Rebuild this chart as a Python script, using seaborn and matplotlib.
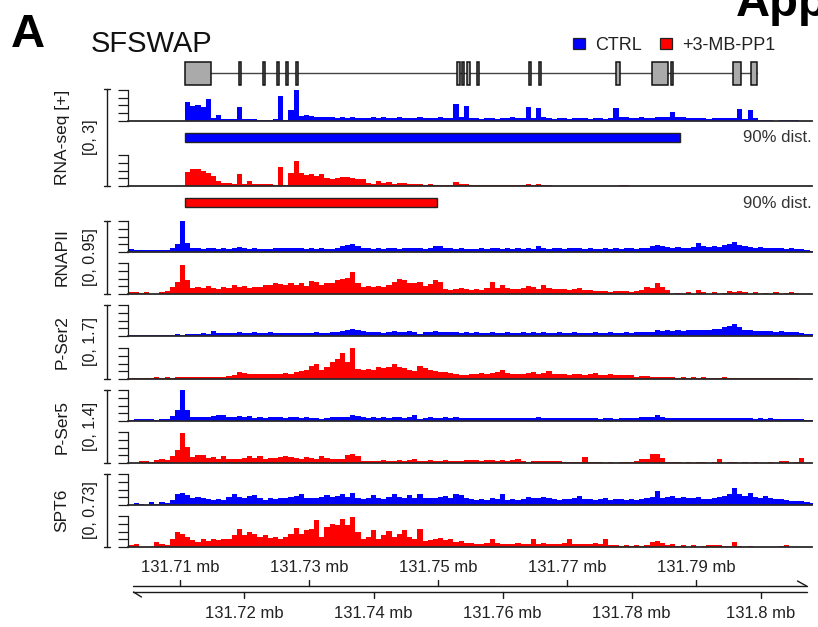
import numpy as np
import pandas as pd
import matplotlib
matplotlib.use("Agg")
import matplotlib.pyplot as plt
import seaborn as sns
from matplotlib.patches import Rectangle
from matplotlib.lines import Line2D

W, H = 818, 627
sns.set_theme(style="white")
plt.rcParams["font.family"] = ["Liberation Sans", "DejaVu Sans"]

BLUE, RED = "#0000FF", "#FF0000"
INK = "#1a1a1a"

# ---- genomic window (mb) -------------------------------------------------
VIEW = (131.70194, 131.80798)
BIN_START = 131.7020
BIN_WIDTH = 0.0008

# ---- gene model: SFSWAP exons (mb) ---------------------------------------
gene_span = (131.71078, 131.79946)
exon_start = [131.71078, 131.71915, 131.72287, 131.72504, 131.72643, 131.72798,
              131.75295, 131.75372, 131.75450, 131.75605, 131.76411, 131.76566,
              131.77760, 131.78318, 131.78612, 131.79574, 131.79853]
exon_end = [131.71481, 131.71946, 131.72318, 131.72535, 131.72674, 131.72829,
            131.75341, 131.75403, 131.75496, 131.75636, 131.76442, 131.76597,
            131.77822, 131.78566, 131.78643, 131.79698, 131.79946]

# ---- 90% read distance (mb) ----------------------------------------------
dist90_ctrl = 131.78752
dist90_trt = 131.74992

# ---- coverage, % of track maximum, one value per 0.8 kb bin --------------
rna_ctrl = [0,0,0,0,0,0,0,0,0,0,0,
            62,48,52,45,72,10,18,7,5,7,
            45,7,8,5,3,3,4,5,80,2,
            37,100,15,18,15,13,12,14,12,11,
            13,10,12,11,9,10,12,9,14,11,
            10,12,10,11,9,12,10,11,9,13,
            10,9,55,12,48,10,9,8,9,10,
            8,9,10,12,11,10,45,11,43,12,
            9,8,9,10,8,9,10,9,8,10,
            9,8,10,41,14,12,11,10,12,9,
            11,14,13,12,30,14,13,11,10,9,
            10,8,9,10,9,10,11,38,8,34,
            9,3,2,3,0,2,3,2,3,0,0,0]
rna_trt = [0,0,0,0,0,0,0,0,0,0,0,
           45,54,56,49,41,32,16,11,9,6,
           38,8,16,5,8,5,5,4,62,3,
           41,82,41,35,38,33,38,27,22,27,
           29,30,27,22,24,11,8,16,11,13,
           5,11,9,5,8,5,4,5,3,4,
           3,3,14,5,5,4,3,4,3,4,
           3,3,4,3,3,4,6,3,6,3,
           2,0,0,0,0,0,0,0,0,0,
           0,0,0,0,2,2,0,0,0,0,
           0,0,0,0,0,0,0,0,0,0,
           0,0,0,0,0,0,0,0,0,0,
           0,0,0,0,0,0,0,0,0,0,0,0]
pol_ctrl = [9,8,6,7,6,8,7,8,12,25,100,
            30,13,12,11,13,12,11,12,11,13,
            15,12,11,12,11,10,11,13,12,14,
            12,13,12,11,12,11,12,10,11,14,
            18,22,27,18,13,12,11,12,10,12,
            13,11,12,13,12,14,11,14,18,20,
            14,12,11,12,11,10,11,12,11,12,
            14,11,12,11,13,11,12,11,18,12,
            11,13,14,11,12,14,13,11,12,10,
            11,12,11,12,11,13,12,11,13,14,
            18,22,20,16,14,15,14,13,16,28,
            18,16,20,15,22,26,32,24,18,16,
            14,15,13,14,12,13,11,12,10,9,6,4]
pol_trt = [7,5,3,7,0,0,5,10,23,39,93,
           45,18,23,20,27,18,16,21,18,29,
           23,26,20,23,23,29,29,34,31,29,
           34,29,34,27,41,39,29,36,34,45,
           50,52,71,34,23,27,23,26,23,29,
           39,50,45,34,36,39,27,31,45,39,
           16,13,16,18,16,14,15,13,18,39,
           20,28,18,15,17,19,25,22,16,28,
           20,17,15,16,14,15,19,13,12,10,
           9,11,8,10,9,11,8,10,14,22,
           20,35,22,12,0,4,0,5,0,14,
           6,0,5,0,3,10,8,9,6,0,
           5,0,4,0,5,0,4,5,3,0,0,0]
ser2_ctrl = [3,4,3,4,3,4,3,4,4,5,4,
             5,6,8,9,8,15,10,9,11,10,
             12,9,10,12,11,10,12,11,10,11,
             9,10,11,10,11,12,10,11,13,14,
             17,19,22,18,15,14,12,13,11,14,
             15,13,14,15,13,6,14,13,15,12,
             14,12,13,11,12,11,12,10,11,12,
             10,11,12,10,11,12,10,13,11,12,
             10,11,12,11,10,12,11,10,11,12,
             10,11,12,11,10,12,11,12,13,12,
             14,18,17,19,17,18,16,18,20,19,
             18,20,22,24,28,32,38,30,20,18,
             16,17,15,16,14,15,13,14,12,10,8,6]
ser2_trt = [4,3,4,3,4,5,4,5,4,5,5,
            6,5,6,5,6,7,6,8,9,13,
            24,20,16,17,15,16,17,15,16,18,
            17,22,27,30,43,48,30,38,54,65,
            83,54,99,32,30,32,30,38,34,38,
            48,38,34,30,27,41,34,30,27,24,
            22,19,16,13,13,15,16,18,17,20,
            22,30,18,16,17,15,18,24,16,18,
            26,17,15,16,14,15,16,14,15,18,
            14,13,15,13,14,12,13,8,10,9,
            7,6,5,6,5,4,5,4,5,4,
            5,4,3,4,5,4,3,4,3,4,
            3,2,3,2,3,2,2,3,2,1,0,0]
ser5_ctrl = [3,5,5,5,5,4,7,8,15,34,100,
             34,12,12,12,13,15,20,20,12,13,
             15,13,15,11,12,11,13,12,14,11,
             12,13,11,12,10,11,8,9,12,13,
             12,14,20,15,12,11,13,10,12,11,
             13,12,11,13,20,6,11,12,10,11,
             12,11,13,10,11,9,10,9,11,9,
             10,9,10,9,10,11,9,10,13,9,
             10,9,10,11,9,10,9,10,9,10,
             8,10,9,8,10,9,11,10,12,13,
             14,18,12,10,9,10,9,10,11,9,
             10,11,10,9,10,11,10,9,10,9,
             8,9,8,9,7,8,7,6,6,5,4,3]
ser5_trt = [0,0,5,5,3,9,14,9,23,41,97,
            52,19,25,27,16,19,14,23,14,12,
            12,16,23,16,23,14,16,16,19,23,
            19,16,14,19,16,14,23,16,14,12,
            14,25,30,23,5,8,7,8,9,8,
            7,9,8,9,12,8,7,9,8,7,
            9,8,7,8,9,9,10,8,9,10,
            8,9,8,9,12,5,4,5,6,7,
            6,5,6,3,4,2,3,19,3,2,
            3,0,3,0,2,3,4,6,12,14,
            28,30,16,4,2,3,0,3,0,2,
            3,0,3,12,0,2,3,0,2,0,
            3,0,0,2,0,6,5,0,2,16,0,0]
spt6_ctrl = [0,5,3,0,10,2,10,8,16,34,40,
             32,23,26,21,19,16,19,16,26,37,
             26,23,29,32,21,16,23,19,21,21,
             26,29,37,21,21,23,26,32,26,29,
             37,26,40,23,19,21,32,23,19,26,
             37,26,21,32,23,37,21,23,21,26,
             29,23,34,32,21,18,16,20,17,22,
             18,34,16,19,15,20,26,24,21,26,
             22,18,17,20,19,23,28,18,20,17,
             19,22,16,18,20,17,19,15,20,22,
             26,44,24,26,28,22,25,21,24,27,
             20,18,22,26,30,37,55,34,28,40,
             26,24,30,22,20,18,16,13,14,12,10,8]
spt6_trt = [8,11,0,0,0,16,11,8,25,48,43,
            32,22,16,25,18,25,21,27,25,38,
            57,38,48,43,32,38,29,32,27,32,
            43,61,43,54,59,86,32,65,75,70,
            89,70,97,48,27,32,54,25,38,51,
            32,43,54,32,27,57,18,21,25,29,
            21,25,16,18,14,12,10,11,13,25,
            12,10,11,9,12,10,11,25,10,12,
            9,11,10,12,25,10,9,11,10,12,
            9,25,8,5,3,5,4,5,3,6,
            16,18,14,5,10,3,7,0,8,0,
            3,5,6,5,4,3,16,4,0,2,
            0,0,0,0,0,3,5,0,0,0,0,0]

# ---- track groups: name, range label, y maximum, (ctrl, trt) --------------
group_names = ["RNA-seq [+]", "RNAPII", "P-Ser2", "P-Ser5", "SPT6"]
group_ranges = ["[0, 3]", "[0, 0.95]", "[0, 1.7]", "[0, 1.4]", "[0, 0.73]"]
group_ymax = [3.0, 0.95, 1.7, 1.4, 0.73]
group_data = [(rna_ctrl, rna_trt), (pol_ctrl, pol_trt), (ser2_ctrl, ser2_trt),
              (ser5_ctrl, ser5_trt), (spt6_ctrl, spt6_trt)]

# panel geometry in pixels: (top, baseline) of the ctrl and trt tracks
track_px = [((90, 121), (155, 186)),
            ((221, 252), (263, 294)),
            ((305, 336), (348, 379)),
            ((390, 421), (432, 463)),
            ((474, 505), (516, 547))]
LEFT_PX, RIGHT_PX = 128, 812


def fx(px):
    return px / W


def fy(py):
    return 1 - py / H


fig = plt.figure(figsize=(W / 100, H / 100), dpi=100)
fig.patch.set_facecolor("white")

# overlay in data-x / pixel-y coordinates for the annotation layer
ov = fig.add_axes([fx(LEFT_PX), 0, (RIGHT_PX - LEFT_PX) / W, 1])
ov.set_xlim(VIEW)
ov.set_ylim(H, 0)
ov.axis("off")


def draw_track(vals, ymax, color, top, base):
    ax = fig.add_axes([fx(LEFT_PX), fy(base), (RIGHT_PX - LEFT_PX) / W, (base - top) / H])
    v = np.asarray(vals, dtype=float) / 100.0 * ymax
    edges = BIN_START + BIN_WIDTH * np.arange(len(v) + 1)
    df = pd.DataFrame({"pos": (edges[:-1] + edges[1:]) / 2, "cov": v})
    sns.histplot(data=df, x="pos", weights="cov", bins=list(edges), element="step",
                 fill=True, color=color, alpha=1, linewidth=0, ax=ax)
    ax.set_xlim(VIEW)
    ax.set_ylim(0, ymax)
    ax.set_facecolor("none")
    ax.set_xlabel("")
    ax.set_ylabel("")
    ax.set_xticks([])
    ax.set_yticks(np.linspace(0, ymax, 5))
    ax.tick_params(axis="y", left=True, direction="out", length=7.2, width=0.9,
                   color=INK, labelleft=False, pad=0)
    for s in ("top", "right"):
        ax.spines[s].set_visible(False)
    ax.spines["left"].set_color(INK)
    ax.spines["left"].set_linewidth(0.9)
    ax.spines["bottom"].set_color("#2a2a2a")
    ax.spines["bottom"].set_linewidth(1.3)
    return ax


for gi, (name, rng, ymax, (dc, dt), ((t1, b1), (t2, b2))) in enumerate(
        zip(group_names, group_ranges, group_ymax, group_data, track_px)):
    draw_track(dc, ymax, BLUE, t1, b1)
    draw_track(dt, ymax, RED, t2, b2)
    top_b = t1 - (1 if gi == 0 else 0)
    # bracket grouping the two tracks
    for seg in [((107, 107), (top_b, b2)), ((104, 110), (top_b, top_b)), ((104, 110), (b2, b2))]:
        fig.add_artist(Line2D([fx(seg[0][0]), fx(seg[0][1])], [fy(seg[1][0]), fy(seg[1][1])],
                              color=INK, lw=1.0, transform=fig.transFigure))
    cy = (top_b + b2) / 2
    fig.text(fx(62), fy(cy), name, rotation=90, ha="center", va="center",
             fontsize=12.5, color=INK)
    fig.text(fx(90), fy(cy), rng, rotation=90, ha="center", va="center",
             fontsize=11.5, color=INK)

# ---- gene model -----------------------------------------------------------
ov.plot(gene_span, [73, 73], color="#444444", lw=1.0, zorder=2)
for s, e in zip(exon_start, exon_end):
    ov.add_patch(Rectangle((s, 62), e - s, 23, facecolor="#aaaaaa",
                           edgecolor="#111111", lw=1.1, zorder=3))

# ---- 90% distance bars ------------------------------------------------------
ov.add_patch(Rectangle((gene_span[0], 133), dist90_ctrl - gene_span[0], 9,
                       facecolor=BLUE, edgecolor="#222222", lw=1.0))
ov.add_patch(Rectangle((gene_span[0], 198), dist90_trt - gene_span[0], 9,
                       facecolor=RED, edgecolor="#222222", lw=1.0))
fig.text(fx(743), fy(138), "90% dist.", ha="left", va="center", fontsize=12, color="#333333")
fig.text(fx(743), fy(203), "90% dist.", ha="left", va="center", fontsize=12, color="#333333")

# ---- genomic ruler (two strands) -----------------------------------------
upper_ticks = [131.71, 131.73, 131.75, 131.77, 131.79]
lower_ticks = [131.72, 131.74, 131.76, 131.78, 131.80]
ruler = (131.70279, 131.80713)
ov.plot(ruler, [586, 586], color=INK, lw=1.0, clip_on=False)
ov.plot(ruler, [592, 592], color=INK, lw=1.0, clip_on=False)
ov.plot([131.80573, 131.80713], [581, 586], color=INK, lw=1.0, clip_on=False)
ov.plot([131.70279, 131.70403], [592, 597], color=INK, lw=1.0, clip_on=False)
for t in upper_ticks:
    ov.plot([t, t], [580, 586], color=INK, lw=1.0)
    ov.text(t, 567, f"{t:g} mb", ha="center", va="center", fontsize=12, color="#222222")
for t in lower_ticks:
    ov.plot([t, t], [592, 598], color=INK, lw=1.0)
    ov.text(t, 614, f"{t:g} mb", ha="center", va="center", fontsize=12, color="#222222")

# ---- titles and legend ------------------------------------------------------
fig.text(fx(11), fy(47), "A", fontsize=34, fontweight="bold", ha="left", va="baseline", color="black")
fig.text(fx(736), fy(16), "App", fontsize=34, fontweight="bold", ha="left", va="baseline", color="black")
fig.text(fx(91), fy(52), "SFSWAP", fontsize=21, ha="left", va="baseline", color="#111111")

fig.add_artist(Rectangle((fx(573), fy(49)), 12 / W, 11 / H, facecolor=BLUE,
                         edgecolor="#222222", lw=0.9, transform=fig.transFigure))
fig.text(fx(595), fy(49.5), "CTRL", fontsize=13, ha="left", va="baseline", color="#222222")
fig.add_artist(Rectangle((fx(660), fy(49)), 12 / W, 11 / H, facecolor=RED,
                         edgecolor="#222222", lw=0.9, transform=fig.transFigure))
fig.text(fx(682), fy(49.5), "+3-MB-PP1", fontsize=13, ha="left", va="baseline", color="#222222")

fig.savefig("out.png", dpi=100, facecolor="white")
